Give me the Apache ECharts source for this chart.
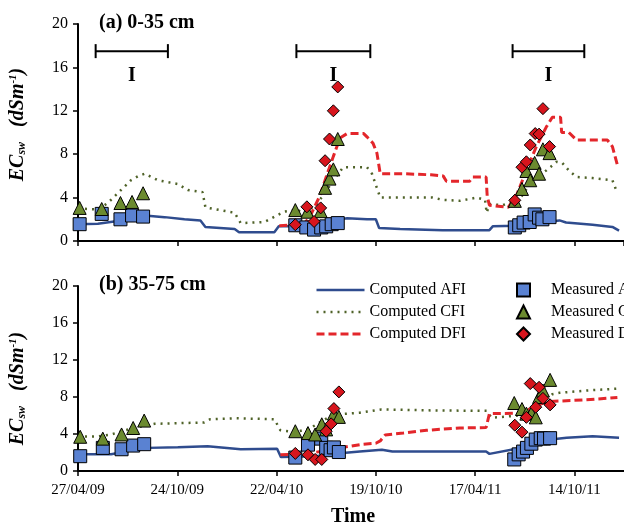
<!DOCTYPE html>
<html>
<head>
<meta charset="utf-8">
<script src="https://cdn.jsdelivr.net/npm/echarts/dist/echarts.min.js"></script>
<style>
html,body{margin:0;padding:0;background:#fff;}
#chart{width:624px;height:528px;}
</style>
</head>
<body>
<div id="chart"></div>
<script>
// x values are days after 27/04/09
var startDate = Date.UTC(2009, 3, 27);
var tickStep = 180;
var yTicks = [0, 4, 8, 12, 16, 20];

// (a) 0-35 cm, computed
var topAfi = [[0,1.55],[36,1.6],[72,1.85],[110,2.2],[121,2.35],[157,2.2],[193,2.0],[222,1.9],[231,1.3],[284,1.1],[292,0.8],[356,0.8],[364,1.35],[403,1.35],[440,1.7],[463,1.9],[488,2.1],[524,2.0],[540,2.0],[546,1.2],[584,1.1],[661,1.0],[746,1.0],[752,1.35],[795,1.4],[837,1.7],[873,1.9],[885,1.7],[933,1.5],[969,1.3],[981,0.95]];
var topCfi = [[0,3.0],[36,2.9],[54,3.5],[78,4.7],[96,5.6],[110,6.0],[121,6.2],[145,5.6],[181,5.25],[199,4.7],[226,4.5],[231,3.1],[284,2.6],[295,1.65],[338,1.75],[374,2.7],[398,2.9],[405,2.6],[430,3.2],[450,4.6],[463,5.6],[481,6.8],[524,6.8],[533,6.2],[548,4.0],[643,4.0],[661,3.8],[692,3.7],[723,4.0],[738,3.8],[741,2.6],[746,3.4],[770,3.3],[788,3.6],[800,3.8],[824,5.6],[849,6.5],[868,7.3],[878,7.2],[890,6.5],[904,5.9],[933,5.8],[969,5.6],[978,4.4]];
var topDfi = [[365,1.4],[395,1.5],[405,1.3],[420,2.2],[438,4.1],[450,5.9],[463,7.8],[475,9.5],[488,9.9],[518,9.9],[524,9.6],[535,9.0],[542,8.1],[548,6.2],[590,6.2],[640,6.1],[662,6.0],[668,5.5],[692,5.5],[710,5.5],[716,5.9],[740,5.9],[742,4.1],[746,3.3],[780,3.1],[795,4.2],[813,6.5],[831,8.7],[849,10.5],[860,11.4],[875,11.4],[877,10.0],[890,10.0],[904,9.3],[960,9.3],[969,8.7],[978,7.0]];

// (a) 0-35 cm, measured
var topAfiMeas = [[3,1.55],[43,2.5],[77,2.0],[98,2.35],[118,2.25],[394,1.45],[414,1.25],[428,1.05],[441,1.25],[450,1.35],[460,1.55],[471,1.65],[792,1.25],[800,1.45],[808,1.7],[819,1.75],[828,2.45],[836,2.15],[842,2.0],[855,2.2]];
var topCfiMeas = [[3,3.05],[43,2.95],[77,3.5],[98,3.6],[118,4.4],[394,2.85],[416,2.7],[440,2.75],[448,4.9],[456,5.75],[463,6.6],[471,9.4],[792,3.7],[805,4.8],[813,6.45],[820,5.6],[828,7.2],[836,6.2],[843,8.45],[855,8.1]];
var topDfiMeas = [[394,1.5],[415,3.15],[428,1.8],[440,3.05],[448,7.4],[456,9.4],[463,12.0],[471,14.2],[792,3.75],[805,6.8],[813,7.3],[820,8.85],[829,9.9],[836,9.85],[843,12.2],[855,8.7]];

// irrigation periods marked "I"
var periods = [[32,163],[396,530],[788,918]];

// (b) 35-75 cm, computed
var botAfi = [[0,1.8],[60,1.8],[90,2.15],[127,2.5],[181,2.57],[235,2.67],[295,2.36],[361,2.4],[368,1.5],[430,1.6],[470,1.9],[511,2.1],[551,2.3],[570,2.1],[740,2.1],[746,1.85],[795,2.4],[849,3.35],[886,3.6],[933,3.75],[981,3.6]];
var botCfi = [[0,3.7],[36,3.75],[60,3.95],[85,4.4],[121,4.9],[139,5.1],[229,5.25],[240,5.6],[284,5.7],[356,5.6],[367,4.4],[395,4.2],[420,4.6],[440,5.3],[460,6.0],[475,6.15],[511,6.3],[550,6.65],[643,6.55],[741,6.5],[750,5.75],[800,6.0],[837,7.2],[860,8.3],[873,8.45],[922,8.7],[978,8.9]];
var botDfi = [[367,1.75],[400,1.8],[440,2.1],[475,2.5],[511,2.85],[540,3.0],[548,3.25],[557,3.9],[590,4.1],[632,4.4],[692,4.65],[740,4.7],[746,6.2],[800,6.25],[815,6.6],[849,7.5],[922,7.7],[978,7.95]];

// (b) 35-75 cm, measured
var botAfiMeas = [[4,1.6],[45,2.5],[79,2.35],[100,2.75],[120,2.9],[394,1.45],[417,2.85],[441,3.5],[450,2.5],[458,2.25],[464,2.55],[473,2.05],[791,1.25],[799,1.8],[807,2.1],[814,2.5],[822,2.95],[830,3.4],[839,3.55],[845,3.5],[856,3.55]];
var botCfiMeas = [[4,3.7],[45,3.5],[79,3.95],[100,4.65],[120,5.45],[394,4.3],[417,4.1],[430,3.95],[442,5.05],[450,4.5],[464,6.2],[473,5.85],[791,7.35],[805,6.7],[813,6.2],[822,6.25],[830,5.8],[836,8.0],[843,8.7],[856,9.85]];
var botDfiMeas = [[394,1.9],[417,1.75],[430,1.25],[442,1.25],[450,4.3],[459,5.1],[464,6.75],[473,8.55],[792,4.95],[805,4.2],[813,5.8],[820,9.45],[830,6.9],[836,9.05],[843,7.85],[856,7.15]];

var serif = '"Liberation Serif", "DejaVu Serif", serif';
var colAfi = '#2f4c8e', colCfi = '#4f6228', colDfi = '#e3262b';
var fillSq = '#5a82d2', fillTri = '#6b8a2f', fillDia = '#d7151d';

function fmtDay(v){
    var d = new Date(startDate + v * 86400000);
    var p = function(n){ return (n < 10 ? '0' : '') + n; };
    return p(d.getUTCDate()) + '/' + p(d.getUTCMonth() + 1) + '/' + p(d.getUTCFullYear() % 100);
}

var yName = '{b|EC}{s|sw}{b|   (dSm}{p|-1}{b|)}';
var yRich = {
    b: {fontFamily: serif, fontSize: 20, fontWeight: 'bold', fontStyle: 'italic', color: '#000'},
    s: {fontFamily: serif, fontSize: 12, fontWeight: 'bold', fontStyle: 'italic', color: '#000', verticalAlign: 'bottom'},
    p: {fontFamily: serif, fontSize: 11, fontWeight: 'bold', fontStyle: 'italic', color: '#000', verticalAlign: 'top'}
};

function makeY(idx, namePad){
    return {
        type: 'value', gridIndex: idx, min: yTicks[0], max: yTicks[yTicks.length - 1], interval: 4,
        name: yName, nameLocation: 'middle', nameGap: 50,
        nameTextStyle: {rich: yRich, padding: namePad},
        axisLine: {show: true, lineStyle: {color: '#000', width: 2}},
        axisTick: {show: true, length: 5, lineStyle: {color: '#000', width: 1.5}},
        axisLabel: {color: '#000', fontFamily: serif, fontSize: 16, margin: 10},
        splitLine: {show: false}
    };
}

function makeX(idx, showLabels){
    return {
        type: 'value', gridIndex: idx, min: 0, max: 990, interval: tickStep,
        name: showLabels ? 'Time' : '', nameLocation: 'middle', nameGap: 36,
        nameTextStyle: {fontFamily: serif, fontSize: 20, fontWeight: 'bold', color: '#000', padding: [0, 0, 0, 4]},
        axisLine: {show: true, onZero: false, lineStyle: {color: '#000', width: 2}},
        axisTick: {show: true, length: 5, lineStyle: {color: '#000', width: 1.5}},
        axisLabel: {show: showLabels, color: '#000', fontFamily: serif, fontSize: 15, margin: 12,
            showMaxLabel: false, formatter: fmtDay},
        splitLine: {show: false}
    };
}

function lineSeries(name, idx, data, color, type, width){
    return {
        name: name, type: 'line', xAxisIndex: idx, yAxisIndex: idx, data: data,
        symbol: 'none', silent: true, z: 2,
        lineStyle: {color: color, type: type, width: width}, itemStyle: {color: color}
    };
}

function markSeries(name, idx, data, symbol, size, fill){
    return {
        name: name, type: 'scatter', xAxisIndex: idx, yAxisIndex: idx, data: data,
        symbol: symbol, symbolSize: size, z: 3,
        itemStyle: {color: fill, borderColor: '#000', borderWidth: 1, opacity: 1}
    };
}

var chart = echarts.init(document.getElementById('chart'));
var option = {
    animation: false,
    backgroundColor: '#fff',
    title: [
        {text: '(a) 0-35 cm', left: 99, top: 13, padding: 0,
            textStyle: {fontFamily: serif, fontSize: 20, fontWeight: 'bold', color: '#000'}},
        {text: '(b) 35-75 cm', left: 99, top: 275, padding: 0,
            textStyle: {fontFamily: serif, fontSize: 20, fontWeight: 'bold', color: '#000'}}
    ],
    legend: [
        {data: ['Computed AFI', 'Computed CFI', 'Computed DFI'], orient: 'vertical', left: 315, top: 282,
            itemWidth: 48, itemHeight: 14, itemGap: 6, padding: 0, selectedMode: false,
            itemStyle: {opacity: 0}, lineStyle: {opacity: 1, width: 'inherit'},
            textStyle: {fontFamily: serif, fontSize: 16, color: '#000'}},
        {data: ['Measured AFI', 'Measured CFI', 'Measured DFI'], orient: 'vertical', left: 516, top: 282,
            itemWidth: 13, itemHeight: 13, itemGap: 6, padding: 0, selectedMode: false,
            textStyle: {fontFamily: serif, fontSize: 16, color: '#000', padding: [0, 0, 0, 16]}}
    ],
    grid: [
        {left: 77, top: 24, width: 548, height: 217},
        {left: 77, top: 286, width: 548, height: 192}
    ],
    xAxis: [makeX(0, false), makeX(1, true)],
    yAxis: [makeY(0, [0, 0, 0, 16]), makeY(1, [0, 20, 0, 0])],
    series: [
        lineSeries('Computed AFI', 0, topAfi, colAfi, 'solid', 2.5),
        lineSeries('Computed CFI', 0, topCfi, colCfi, [2, 5], 2.5),
        lineSeries('Computed DFI', 0, topDfi, colDfi, [8, 4], 3),
        markSeries('Measured AFI', 0, topAfiMeas, 'rect', 13, fillSq),
        markSeries('Measured CFI', 0, topCfiMeas, 'triangle', 13, fillTri),
        markSeries('Measured DFI', 0, topDfiMeas, 'diamond', 12, fillDia),
        lineSeries('Computed AFI', 1, botAfi, colAfi, 'solid', 2.5),
        lineSeries('Computed CFI', 1, botCfi, colCfi, [2, 5], 2.5),
        lineSeries('Computed DFI', 1, botDfi, colDfi, [8, 4], 3),
        markSeries('Measured AFI', 1, botAfiMeas, 'rect', 13, fillSq),
        markSeries('Measured CFI', 1, botCfiMeas, 'triangle', 13, fillTri),
        markSeries('Measured DFI', 1, botDfiMeas, 'diamond', 12, fillDia),
        {
            type: 'custom', xAxisIndex: 0, yAxisIndex: 0, data: periods, silent: true, z: 4,
            renderItem: function(params, api){
                var a = api.coord([api.value(0), 17.5]);
                var b = api.coord([api.value(1), 17.5]);
                var m = api.coord([(api.value(0) + api.value(1)) / 2, 15.2]);
                var ink = {stroke: '#000', lineWidth: 2};
                return {type: 'group', children: [
                    {type: 'line', shape: {x1: a[0], y1: a[1], x2: b[0], y2: b[1]}, style: ink},
                    {type: 'line', shape: {x1: a[0], y1: a[1] - 7, x2: a[0], y2: a[1] + 7}, style: ink},
                    {type: 'line', shape: {x1: b[0], y1: b[1] - 7, x2: b[0], y2: b[1] + 7}, style: ink},
                    {type: 'text', x: m[0], y: m[1], style: {text: 'I', fill: '#000',
                        font: 'bold 20px ' + serif, align: 'center', verticalAlign: 'middle'}}
                ]};
            }
        }
    ]
};
chart.setOption(option);
</script>
</body>
</html>
